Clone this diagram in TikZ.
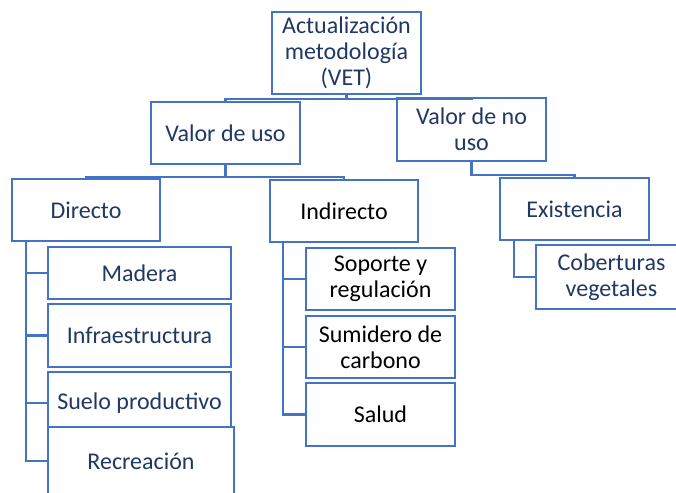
\documentclass[tikz,border=0pt]{standalone}
\usepackage{fontspec}
\setmainfont{Carlito}
\definecolor{borde}{HTML}{4472C4}
\definecolor{texto}{HTML}{203864}
\tikzset{
  caja/.style={draw=borde, line width=2.2pt, fill=white, align=center, inner sep=0pt,
    text=texto, font=\fontsize{24}{26}\selectfont},
  rama/.style={draw=borde, line width=2.2pt},
}
\begin{document}
\begin{tikzpicture}[x=1pt, y=-1pt]
    \clip (0,0) rectangle (676,492);
    \useasboundingbox (0,0) rectangle (676,492);

    % Nivel superior
    \node[caja, minimum width=149pt, minimum height=82pt] (root) at (346.5,53) {Actualización\\metodología\\(VET)};
    \node[caja, minimum width=149pt, minimum height=62pt] (uso) at (225.5,133) {Valor de uso};
    \node[caja, minimum width=149pt, minimum height=63pt] (nouso) at (471.5,129.5) {Valor de no\\uso};

    % Tipos de valor
    \node[caja, minimum width=148pt, minimum height=62pt] (dir) at (86,210) {Directo};
    \node[caja, minimum width=148pt, minimum height=62pt, text=black] (ind) at (344,211) {Indirecto};
    \node[caja, minimum width=149pt, minimum height=62pt] (exis) at (574.5,209) {Existencia};

    % Valor directo
    \node[caja, minimum width=183pt, minimum height=52pt] (mad) at (139.5,273) {Madera};
    \node[caja, minimum width=183pt, minimum height=63pt] (infra) at (139.5,335.5) {Infraestructura};
    \node[caja, minimum width=183pt, minimum height=62pt] (suelo) at (139.5,403) {Suelo productivo};
    \node[caja, minimum width=186pt, minimum height=68pt] (recre) at (141,461) {Recreación};

    % Valor indirecto
    \node[caja, minimum width=149pt, minimum height=62pt, text=black] (sop) at (380.5,279) {Soporte y\\regulación};
    \node[caja, minimum width=149pt, minimum height=62pt, text=black] (sum) at (380.5,347) {Sumidero de\\carbono};
    \node[caja, minimum width=149pt, minimum height=63pt, text=black] (sal) at (380.5,414.5) {Salud};

    % Existencia (la caja sale por el borde derecho)
    \node[caja, draw=none, minimum width=149pt, minimum height=62pt] (cob) at (611.5,277) {Coberturas\\vegetales};
    \draw[rama] (cob.north west) rectangle ([xshift=30pt]cob.south east);

    % Conexiones
    \draw[rama] (root.south) -- ++(0,4) -| (uso.north);
    \draw[rama] (root.south) -- ++(0,4) -| (nouso.north);
    \draw[rama] (uso.south) -- ++(0,12) -| (dir.north);
    \draw[rama] (uso.south) -- ++(0,12) -| (ind.north);
    \draw[rama] (nouso.south) -- ++(0,13) -| (exis.north);
    \foreach \c in {mad,infra,suelo,recre}
      \draw[rama] ([xshift=15pt]dir.south west) |- (\c.west);
    \foreach \c in {sop,sum,sal}
      \draw[rama] ([xshift=14pt]ind.south west) |- (\c.west);
    \draw[rama] ([xshift=15pt]exis.south west) |- (cob.west);
\end{tikzpicture}
\end{document}
